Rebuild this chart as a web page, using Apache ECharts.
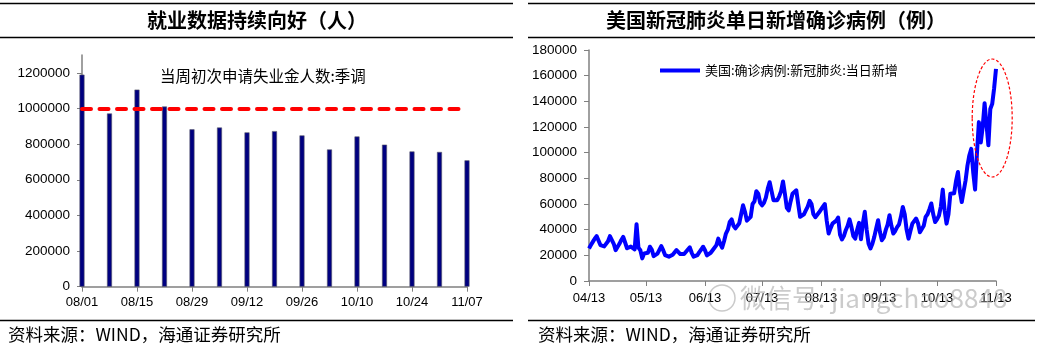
<!DOCTYPE html>
<html>
<head>
<meta charset="utf-8">
<title>就业数据与美国新冠新增</title>
<script src="https://cdn.jsdelivr.net/npm/echarts@6/dist/echarts.min.js"></script>
<style>
  html, body { margin: 0; padding: 0; background: #fff; }
  #chart { width: 1043px; height: 351px; }
</style>
</head>
<body>
<div id="chart"></div>
<script>
// 左图：当周初次申请失业金人数:季调
const claimWeeks = ['08/01', '08/08', '08/15', '08/22', '08/29', '09/05', '09/12', '09/19',
  '09/26', '10/03', '10/10', '10/17', '10/24', '10/31', '11/07']
const claimValues = [1190000, 972000, 1106000, 1011000, 883000, 893000, 866000, 873000,
  849000, 770000, 843000, 797000, 759000, 756000, 709000]
const claimGuide = 1000000

// 右图：美国:确诊病例:新冠肺炎:当日新增（2020-04-13 起每日）
const caseStart = Date.UTC(2020, 3, 13)
const caseValues = [
  25400, 28000, 30500, 33000, 35000, 31500, 28000,
  29500, 27000, 26000, 31000, 35000, 36500, 29000,
  24000, 26500, 29000, 32000, 34400, 30000, 25500,
  24600, 26800, 25500, 24600, 44300, 26000, 24000,
  17600, 21500, 23000, 22000, 26700, 24500, 19400,
  20000, 21400, 22000, 27200, 24000, 20200, 19500,
  19000, 19000, 20500, 22000, 24100, 23000, 21000,
  21400, 21000, 22500, 24500, 26200, 22000, 19000,
  19000, 20200, 22500, 24500, 26700, 24000, 20000,
  21000, 22000, 24000, 25000, 28000, 33000, 29000,
  26000, 31000, 37000, 40000, 46000, 48000, 43000,
  41000, 43000, 45000, 52000, 59000, 54000, 47000,
  48000, 50000, 60000, 62000, 70000, 68000, 61000,
  59000, 61000, 65000, 72000, 77000, 70000, 63000,
  64000, 63000, 66000, 70000, 77600, 68000, 57000,
  55000, 62000, 68000, 67000, 70700, 60000, 50000,
  48700, 52000, 55000, 58000, 62400, 60000, 52000,
  49700, 51000, 53500, 54000, 58000, 60000, 47000,
  37000, 41000, 44700, 45000, 47000, 49500, 36000,
  32400, 35000, 39600, 43000, 48000, 42000, 35000,
  33000, 40000, 45300, 32600, 45000, 53900, 40000,
  29000, 25400, 29000, 34400, 41000, 47400, 38000,
  31800, 34000, 39600, 44000, 51300, 43000, 37000,
  39000, 42000, 44000, 50000, 57700, 52000, 40000,
  33000, 39000, 44700, 45000, 48700, 45000, 38000,
  37000, 43000, 50000, 52000, 56000, 60400, 52000,
  46000, 48000, 51000, 58000, 71200, 55000, 44700,
  52000, 68000, 67000, 68400, 78000, 85000, 70000,
  61500, 70000, 78300, 90000, 98000, 103000, 85000,
  71200, 100000, 123800, 108000, 120000, 138500, 122000,
  105700, 134000, 138000, 150000, 165300
]

// 日期标签 MM/DD
const pad = (n) => String(n).padStart(2, '0')
const caseDates = caseValues.map((v, i) => {
  const d = new Date(caseStart + i * 86400000)
  return pad(d.getUTCMonth() + 1) + '/' + pad(d.getUTCDate())
})

const numFont = "'Liberation Sans', Arial, sans-serif"
const cjkFont = "'Noto Sans CJK SC', sans-serif"
const axisGrey = '#808080'
const plain = (v) => String(v)

const chart = echarts.init(document.getElementById('chart'))

// 标题、分隔线、资料来源
const frame = [
  { id: 'l-top', type: 'line', shape: { x1: 0, y1: 3.5, x2: 513, y2: 3.5 }, style: { stroke: '#000', lineWidth: 1.5 } },
  { id: 'l-mid', type: 'line', shape: { x1: 0, y1: 37.5, x2: 513, y2: 37.5 }, style: { stroke: '#000', lineWidth: 1.5 } },
  { id: 'l-bot', type: 'line', shape: { x1: 0, y1: 320.5, x2: 513, y2: 320.5 }, style: { stroke: '#000', lineWidth: 1.5 } },
  { id: 'r-top', type: 'line', shape: { x1: 528, y1: 3.5, x2: 1035, y2: 3.5 }, style: { stroke: '#000', lineWidth: 1.5 } },
  { id: 'r-mid', type: 'line', shape: { x1: 528, y1: 37.5, x2: 1035, y2: 37.5 }, style: { stroke: '#000', lineWidth: 1.5 } },
  { id: 'r-bot', type: 'line', shape: { x1: 528, y1: 320.5, x2: 1035, y2: 320.5 }, style: { stroke: '#000', lineWidth: 1.5 } },
  {
    id: 'l-title', type: 'text', x: 257, y: 20,
    style: { text: '就业数据持续向好（人）', font: 'bold 20px ' + cjkFont, fill: '#000',
      align: 'center', verticalAlign: 'middle', textAlign: 'center', textVerticalAlign: 'middle' }
  },
  {
    id: 'r-title', type: 'text', x: 776, y: 20,
    style: { text: '美国新冠肺炎单日新增确诊病例（例）', font: 'bold 20px ' + cjkFont, fill: '#000',
      align: 'center', verticalAlign: 'middle', textAlign: 'center', textVerticalAlign: 'middle' }
  },
  {
    id: 'l-src', type: 'text', x: 8, y: 334,
    style: { text: '资料来源：WIND，海通证券研究所', font: '17.5px ' + cjkFont, fill: '#000',
      align: 'left', verticalAlign: 'middle', textAlign: 'left', textVerticalAlign: 'middle' }
  },
  {
    id: 'r-src', type: 'text', x: 538, y: 334,
    style: { text: '资料来源：WIND，海通证券研究所', font: '17.5px ' + cjkFont, fill: '#000',
      align: 'left', verticalAlign: 'middle', textAlign: 'left', textVerticalAlign: 'middle' }
  },
  // 水印
  {
    id: 'wm-logo', type: 'circle', shape: { cx: 722, cy: 298, r: 13 },
    style: { fill: 'none', stroke: 'rgba(150,150,150,0.5)', lineWidth: 1.5 }, z: 100
  },
  {
    id: 'wm-text', type: 'text', x: 740, y: 298, z: 100,
    style: { text: '微信号: jiangchao8848', font: '26px ' + cjkFont, fill: 'rgba(160,160,160,0.55)',
      align: 'left', verticalAlign: 'middle', textAlign: 'left', textVerticalAlign: 'middle' }
  }
]

const option = {
  animation: false,
  textStyle: { fontFamily: numFont },
  legend: [
    {
      data: ['当周初次申请失业金人数:季调'],
      left: 149, top: 63,
      itemWidth: 0, itemHeight: 0,
      textStyle: { fontSize: 15.5, fontFamily: cjkFont, color: '#000' }
    },
    {
      data: ['美国:确诊病例:新冠肺炎:当日新增'],
      left: 655, top: 59,
      icon: 'rect', itemWidth: 40, itemHeight: 4,
      textStyle: { fontSize: 13, fontFamily: cjkFont, color: '#000' }
    }
  ],
  grid: [
    { left: 82, top: 55, width: 385, height: 231.7 },
    { left: 589, top: 50, width: 407, height: 231 }
  ],
  xAxis: [
    {
      type: 'category', gridIndex: 0, data: claimWeeks, boundaryGap: false,
      axisLine: { lineStyle: { color: axisGrey, width: 1.5 } },
      axisTick: { interval: 1, length: 5, lineStyle: { color: axisGrey } },
      axisLabel: { interval: 1, margin: 9, fontSize: 13, color: '#000', fontFamily: numFont }
    },
    {
      type: 'category', gridIndex: 1, data: caseDates, boundaryGap: false,
      axisLine: { lineStyle: { color: axisGrey, width: 1.5 } },
      axisTick: { interval: (i, v) => v.slice(3) === '13', length: 5, lineStyle: { color: axisGrey } },
      axisLabel: { interval: (i, v) => v.slice(3) === '13', margin: 11, fontSize: 13, color: '#000', fontFamily: numFont }
    }
  ],
  yAxis: [
    {
      type: 'value', gridIndex: 0, min: 0, max: 1300000, interval: 200000,
      splitLine: { show: false },
      axisLine: { show: true, lineStyle: { color: axisGrey, width: 1.5 } },
      axisTick: { show: true, length: 5, lineStyle: { color: axisGrey } },
      axisLabel: { margin: 12, fontSize: 13.5, color: '#000', fontFamily: numFont, showMaxLabel: false, formatter: plain }
    },
    {
      type: 'value', gridIndex: 1, min: 0, max: 180000, interval: 20000,
      splitLine: { show: false },
      axisLine: { show: true, lineStyle: { color: axisGrey, width: 1.5 } },
      axisTick: { show: true, length: 5, lineStyle: { color: axisGrey } },
      axisLabel: { margin: 12, fontSize: 13.5, color: '#000', fontFamily: numFont, formatter: plain }
    }
  ],
  series: [
    {
      name: '当周初次申请失业金人数:季调',
      type: 'bar', xAxisIndex: 0, yAxisIndex: 0,
      data: claimValues,
      barWidth: 5,
      itemStyle: { color: '#000080', borderColor: '#5a5a6a', borderWidth: 0.6 },
      markLine: {
        silent: true, symbol: 'none',
        label: { show: false },
        lineStyle: { color: '#ff0000', width: 4, type: [9, 8.5], cap: 'round' },
        data: [{ yAxis: claimGuide }]
      }
    },
    {
      name: '美国:确诊病例:新冠肺炎:当日新增',
      type: 'line', xAxisIndex: 1, yAxisIndex: 1,
      data: caseValues,
      showSymbol: false,
      color: '#0000ff',
      lineStyle: { color: '#0000ff', width: 4, join: 'round' }
    }
  ],
  graphic: { elements: frame }
}

chart.setOption(option)

// 红色虚线椭圆，圈出最近一段
const c = chart.convertToPixel({ xAxisIndex: 1, yAxisIndex: 1 }, [212, 127000])
chart.setOption({
  graphic: {
    elements: frame.concat([{
      id: 'ring', type: 'ellipse', z: 50,
      shape: { cx: c[0], cy: c[1], rx: 20, ry: 59 },
      style: { fill: 'none', stroke: '#ff0000', lineWidth: 1.2, lineDash: [3, 2] }
    }])
  }
})
</script>
</body>
</html>
